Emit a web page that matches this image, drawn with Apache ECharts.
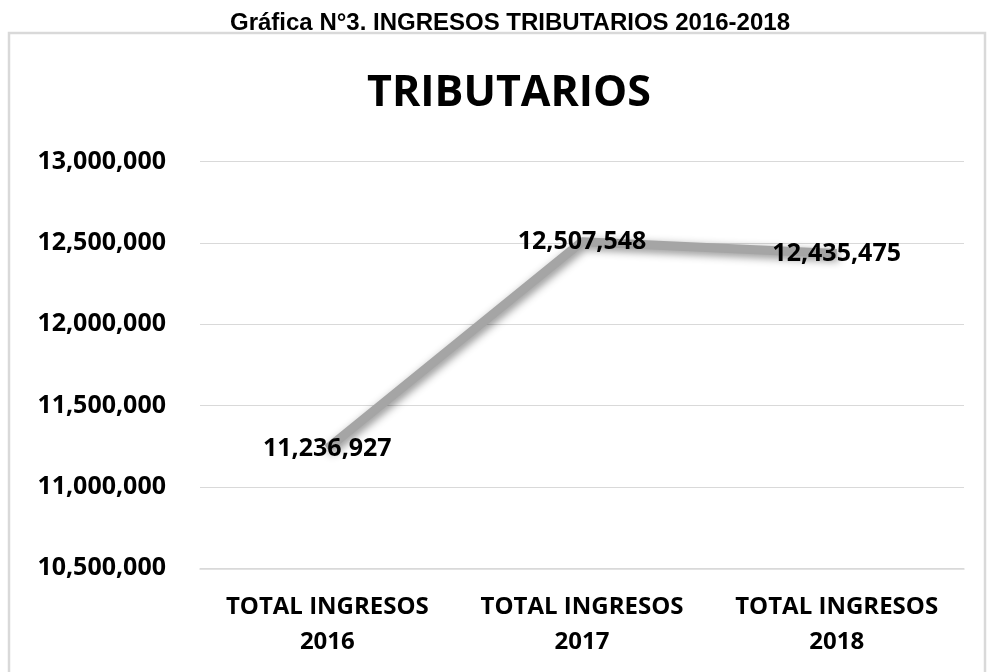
<!DOCTYPE html>
<html>
<head>
<meta charset="utf-8">
<title>Gráfica N°3. INGRESOS TRIBUTARIOS 2016-2018</title>
<script src="https://cdn.jsdelivr.net/npm/echarts@6/dist/echarts.min.js"></script>
<style>
  html, body { margin: 0; padding: 0; background: #fff; }
  #container { width: 987px; height: 672px; }
</style>
</head>
<body>
<div id="container"></div>
<script>
  // datos
  const categorias = ['TOTAL INGRESOS\n2016', 'TOTAL INGRESOS\n2017', 'TOTAL INGRESOS\n2018'];
  const tributarios = [11236927, 12507548, 12435475];
  const yMin = 10500000;
  const yMax = 13000000;
  const yPaso = 500000;

  const fuente = '"Open Sans", "Noto Sans", sans-serif';
  const fmt = v => Number(v).toLocaleString('en-US');

  const mChart = echarts.init(document.getElementById('container'), null, {renderer: 'canvas'});

  const option = {
    animation: false,
    backgroundColor: '#ffffff',
    title: [
      {
        text: 'Gráfica N°3. INGRESOS TRIBUTARIOS 2016-2018',
        left: 505,
        textAlign: 'center',
        top: 6,
        textStyle: {
          fontFamily: '"Liberation Sans", Arial, sans-serif',
          fontWeight: 'bold',
          fontSize: 24,
          color: '#000'
        }
      },
      {
        text: 'TRIBUTARIOS',
        left: 504,
        textAlign: 'center',
        top: 67,
        textStyle: {
          fontFamily: fuente,
          fontWeight: 'bold',
          fontSize: 43,
          color: '#000'
        }
      }
    ],
    graphic: [{
      type: 'rect',
      shape: {x: 9, y: 33, width: 976, height: 680},
      style: {fill: null, stroke: '#d9d9d9', lineWidth: 2.5},
      silent: true
    }],
    grid: {
      left: 200,
      right: 23,
      top: 161.7,
      bottom: 103.7
    },
    xAxis: {
      type: 'category',
      data: categorias,
      boundaryGap: true,
      axisLine: {lineStyle: {color: '#d9d9d9', width: 1.5}},
      axisTick: {show: false},
      axisLabel: {
        interval: 0,
        hideOverlap: false,
        margin: 21,
        color: '#000',
        fontFamily: fuente,
        fontWeight: 'bold',
        fontSize: 24,
        lineHeight: 35
      }
    },
    yAxis: {
      type: 'value',
      min: yMin,
      max: yMax,
      interval: yPaso,
      axisLine: {show: false},
      axisTick: {show: false},
      splitLine: {lineStyle: {color: '#d9d9d9', width: 1.2}},
      axisLabel: {
        margin: 34,
        color: '#000',
        fontFamily: fuente,
        fontWeight: 'bold',
        fontSize: 25,
        formatter: fmt
      }
    },
    series: [{
      type: 'line',
      name: 'TRIBUTARIOS',
      data: tributarios,
      showSymbol: true,
      symbol: 'circle',
      symbolSize: 1,
      itemStyle: {color: '#a5a5a5'},
      lineStyle: {
        color: '#a5a5a5',
        width: 9,
        shadowColor: 'rgba(0,0,0,0.45)',
        shadowBlur: 9,
        shadowOffsetX: 2,
        shadowOffsetY: 3
      },
      label: {
        show: true,
        position: 'inside',
        color: '#000',
        fontFamily: fuente,
        fontWeight: 'bold',
        fontSize: 25,
        formatter: p => fmt(p.value)
      }
    }]
  };

  mChart.setOption(option);
</script>
</body>
</html>
